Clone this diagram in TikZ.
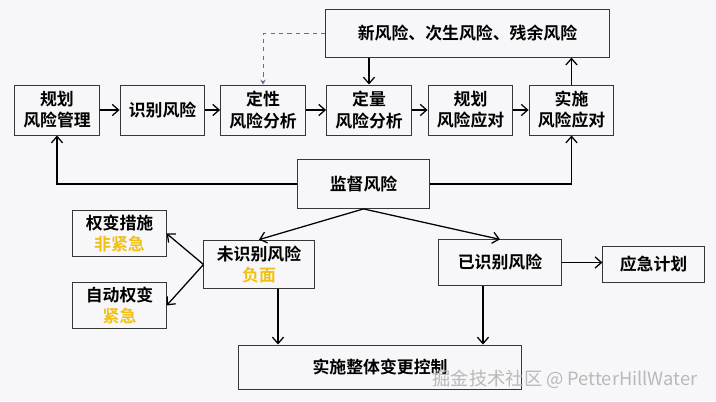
\documentclass[tikz,border=0pt]{standalone}
\usepackage{fontspec}
\newfontfamily\cjk{Noto Sans CJK SC}[BoldFont={Noto Sans CJK SC Bold}]
\usepackage{xcolor}
\usepackage{tikz}
\usetikzlibrary{arrows.meta}

\definecolor{boxline}{RGB}{55,55,55}
\definecolor{warnyellow}{RGB}{242,192,20}
\definecolor{dashblue}{RGB}{100,110,145}
\definecolor{paper}{RGB}{247,247,249}

\begin{document}
\begin{tikzpicture}[x=0.025cm, y=-0.025cm, >={Straight Barb[length=1.6mm, width=2.8mm]}, line width=0.9pt,
    box/.style={draw=boxline, line width=0.7pt, align=center, inner sep=0pt,
        font=\cjk\bfseries\fontsize{12}{15}\selectfont},
    stagebox/.style={box, minimum width=2.12cm, minimum height=1.25cm},
    warn/.style={text=warnyellow}]

    % ==========================================
    % Paper and bounding box
    % ==========================================
    \fill[paper] (0,0) rectangle (716,401);
    \useasboundingbox (0,0) rectangle (716,401);

    % ==========================================
    % Main process row
    % ==========================================
    \node[stagebox] (plan)  at (57,110)  {规划\\风险管理};
    \node[stagebox] (ident) at (162.5,110) {识别风险};
    \node[stagebox] (qual)  at (263,110) {定性\\风险分析};
    \node[stagebox] (quant) at (369,110) {定量\\风险分析};
    \node[stagebox] (resp)  at (470.5,110) {规划\\风险应对};
    \node[stagebox] (impl)  at (571.5,110) {实施\\风险应对};

    \draw[->] (plan) -- (ident);
    \draw[->] (ident) -- (qual);
    \draw[->] (qual) -- (quant);
    \draw[->] (quant) -- (resp);
    \draw[->] (resp) -- (impl);

    % New / secondary / residual risks
    \node[box, minimum width=7.08cm, minimum height=1.18cm] (newrisk) at (467.5,33.5) {新风险、次生风险、残余风险};
    \draw[dashed, dashblue, line width=0.7pt, -{Stealth[length=1.2mm, width=1.4mm]}] (newrisk.west) -| (qual.north);
    \draw[->] (newrisk.south -| quant.north) -- (quant.north);
    \draw[->] (impl.north) -- (impl.north |- newrisk.south);

    % ==========================================
    % Monitoring
    % ==========================================
    \node[box, minimum width=3.28cm, minimum height=1.22cm] (monitor) at (363.5,184) {监督风险};
    \draw[->] (monitor.west) -| (plan.south);
    \draw[->] (monitor.east) -| (impl.south);

    % ==========================================
    % Unidentified / identified risks
    % ==========================================
    \node[box, minimum width=2.75cm, minimum height=1.22cm] (unknown) at (259,264.5) {未识别风险\\\textcolor{warnyellow}{负面}};
    \node[box, minimum width=3.05cm, minimum height=1.13cm] (known) at (500,262.5) {已识别风险};

    \draw[->] (monitor.south) -- (unknown.north);
    \draw[->] (monitor.south) -- (known.north);

    % Workarounds (left)
    \node[box, minimum width=2.33cm, minimum height=1.13cm] (workaround) at (119.5,233.5) {权变措施\\\textcolor{warnyellow}{非紧急}};
    \node[box, minimum width=2.33cm, minimum height=1.13cm] (autowork) at (119.5,305.5) {自动权变\\\textcolor{warnyellow}{紧急}};
    \draw[->] (unknown.west) -- (workaround.east);
    \draw[->] (unknown.west) -- (autowork.east);

    % Contingency plan (right)
    \node[box, minimum width=2.53cm, minimum height=0.88cm] (contingency) at (653.5,264.5) {应急计划};
    \draw[->] (known.east) -- (known.east -| contingency.west);

    % ==========================================
    % Integrated change control
    % ==========================================
    \node[box, minimum width=7.05cm, minimum height=1.1cm] (change) at (380,367) {实施整体变更控制};
    \draw[->] ([xshift=0.475cm]unknown.south) -- ([xshift=0.475cm]unknown.south |- change.north);
    \draw[->] ([xshift=-0.425cm]known.south) -- ([xshift=-0.425cm]known.south |- change.north);

    % watermark
    \node[text=gray!55, font=\cjk\fontsize{13}{15}\selectfont, inner sep=0pt] (mark) at (565,379) {掘金技术社区 @ PetterHillWater};

\end{tikzpicture}
\end{document}
